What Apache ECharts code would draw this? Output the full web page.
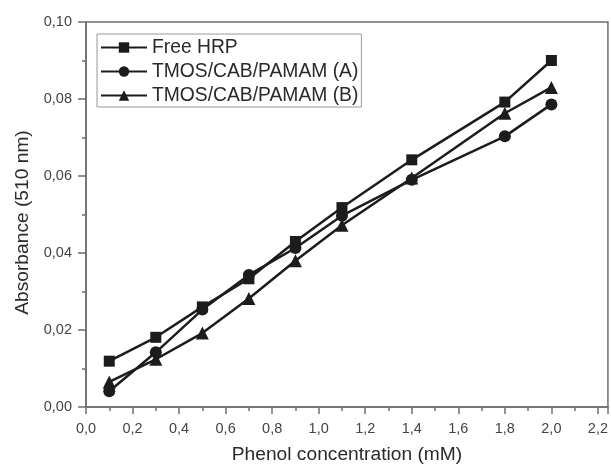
<!DOCTYPE html>
<html>
<head>
<meta charset="utf-8">
<script src="https://cdn.jsdelivr.net/npm/echarts@6/dist/echarts.min.js"></script>
<style>
html, body { margin: 0; padding: 0; background: #fff; }
#chart { width: 611px; height: 469px; }
</style>
</head>
<body>
<div id="chart"></div>
<script>
// Phenol concentration (mM)
var concentrations = [0.1, 0.3, 0.5, 0.7, 0.9, 1.1, 1.4, 1.8, 2.0];

// Absorbance at 510 nm
var freeHrp = [0.0119, 0.0181, 0.0260, 0.0333, 0.0430, 0.0518, 0.0642, 0.0792, 0.0900];
var tmosA = [0.0041, 0.0142, 0.0253, 0.0343, 0.0413, 0.0497, 0.0590, 0.0703, 0.0786];
var tmosB = [0.0065, 0.0124, 0.0192, 0.0282, 0.0380, 0.0472, 0.0595, 0.0763, 0.0830];

var seriesNames = ['Free HRP', 'TMOS/CAB/PAMAM (A)', 'TMOS/CAB/PAMAM (B)'];
var symbols = ['rect', 'circle', 'triangle'];

var fontFamily = '"Liberation Sans", Arial, sans-serif';
var lineColor = '#1c1c1c';
var frameColor = '#6e6e6e';

function pairs(xs, ys) {
    var out = [];
    for (var i = 0; i < xs.length; i++) {
        out.push([xs[i], ys[i]]);
    }
    return out;
}

function makeSeries(name, values, symbol, size) {
    return {
        name: name,
        type: 'line',
        data: pairs(concentrations, values),
        symbol: symbol,
        symbolSize: size,
        itemStyle: { color: lineColor },
        lineStyle: { color: lineColor, width: 2.5 },
        emphasis: { disabled: true }
    };
}

var chart = echarts.init(document.getElementById('chart'));

var option = {
    animation: false,
    backgroundColor: '#fff',
    grid: {
        left: 86,
        top: 22,
        right: 2,
        bottom: 58,
        show: true,
        borderColor: frameColor,
        borderWidth: 1.5
    },
    legend: {
        left: 97,
        top: 34,
        orient: 'vertical',
        padding: [4, 3, 2, 3],
        itemGap: 5,
        itemWidth: 46,
        itemHeight: 13,
        borderColor: '#9a9a9a',
        borderWidth: 1,
        textStyle: { fontFamily: fontFamily, fontSize: 19.3, color: '#2a2a2a' },
        data: seriesNames
    },
    xAxis: {
        type: 'value',
        min: 0,
        max: 2.243,
        interval: 0.2,
        name: 'Phenol concentration (mM)',
        nameLocation: 'middle',
        nameGap: 38,
        nameTextStyle: { fontFamily: fontFamily, fontSize: 19.2, color: '#2a2a2a' },
        axisLine: { show: true, lineStyle: { color: frameColor, width: 1.5 } },
        axisTick: { show: true, length: 7, lineStyle: { color: frameColor, width: 1.5 } },
        minorTick: { show: true, splitNumber: 2, length: 4, lineStyle: { color: frameColor, width: 1.5 } },
        splitLine: { show: false },
        axisLabel: {
            margin: 14,
            showMaxLabel: false,
            fontFamily: fontFamily,
            fontSize: 14.5,
            color: '#444',
            formatter: function (v) { return v.toFixed(1).replace('.', ','); }
        }
    },
    yAxis: {
        type: 'value',
        min: 0,
        max: 0.1,
        interval: 0.02,
        name: 'Absorbance (510 nm)',
        nameLocation: 'middle',
        nameGap: 54,
        nameTextStyle: { fontFamily: fontFamily, fontSize: 19.2, color: '#2a2a2a', padding: [0, 16, 0, 0] },
        axisLine: { show: true, lineStyle: { color: frameColor, width: 1.5 } },
        axisTick: { show: true, length: 8, lineStyle: { color: frameColor, width: 1.5 } },
        minorTick: { show: true, splitNumber: 2, length: 4, lineStyle: { color: frameColor, width: 1.5 } },
        splitLine: { show: false },
        axisLabel: {
            margin: 14,
            fontFamily: fontFamily,
            fontSize: 14.5,
            color: '#444',
            formatter: function (v) { return v.toFixed(2).replace('.', ','); }
        }
    },
    series: [
        makeSeries(seriesNames[0], freeHrp, symbols[0], 11),
        makeSeries(seriesNames[1], tmosA, symbols[1], 12),
        makeSeries(seriesNames[2], tmosB, symbols[2], 13)
    ]
};

chart.setOption(option);
</script>
</body>
</html>
